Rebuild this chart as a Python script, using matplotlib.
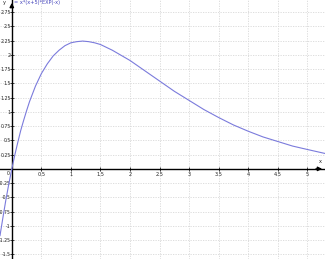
import matplotlib
matplotlib.use("Agg")
import matplotlib.pyplot as plt
import numpy as np

# Curve samples
x_vals = [-0.2, -0.15, -0.1, -0.05, 0.0, 0.05, 0.1, 0.15, 0.2, 0.25, 0.3, 0.4, 0.5,
          0.6, 0.7, 0.8, 0.9, 1.0, 1.1, 1.2, 1.3, 1.4, 1.5, 1.6, 1.7, 1.8, 1.9,
          2.0, 2.25, 2.5, 2.75, 3.0, 3.25, 3.5, 3.75, 4.0, 4.25, 4.5, 4.75, 5.0, 5.3]
y_vals = [-1.17, -0.85, -0.54, -0.26, 0.0, 0.24, 0.46, 0.67, 0.85, 1.02, 1.18, 1.45,
          1.67, 1.84, 1.98, 2.08, 2.16, 2.21, 2.23, 2.24, 2.23, 2.21, 2.18, 2.13,
          2.08, 2.02, 1.96, 1.9, 1.72, 1.54, 1.36, 1.2, 1.04, 0.9, 0.77, 0.66, 0.56,
          0.48, 0.4, 0.34, 0.27]

x_ticks = [0.5, 1, 1.5, 2, 2.5, 3, 3.5, 4, 4.5, 5]
x_tick_labels = ["0.5", "1", "1.5", "2", "2.5", "3", "3.5", "4", "4.5", "5"]
y_ticks = [-1.5, -1.25, -1, -0.75, -0.5, -0.25, 0.25, 0.5, 0.75, 1, 1.25, 1.5,
           1.75, 2, 2.25, 2.5, 2.75]
y_tick_labels = ["-1.5", "-1.25", "-1", "-0.75", "-0.5", "-0.25", "0.25", "0.5",
                 "0.75", "1", "1.25", "1.5", "1.75", "2", "2.25", "2.5", "2.75"]
title = "= x*(x+5)*EXP(-x)"

fig = plt.figure(figsize=(3.25, 2.59), dpi=100)
ax = fig.add_axes([0, 0, 1, 1])
ax.set_xlim(-0.2, 5.3)
ax.set_ylim(-1.58, 2.96)

# Grid
for gx in np.arange(0.5, 5.3, 0.5):
    ax.axvline(gx, color="#d8d8d8", lw=0.6, ls=(0, (1.5, 1.5)), zorder=0)
for gy in np.arange(-1.5, 2.96, 0.25):
    if abs(gy) > 1e-9:
        ax.axhline(gy, color="#d8d8d8", lw=0.6, ls=(0, (1.5, 1.5)), zorder=0)

# Axes through the origin
for s in ["top", "right"]:
    ax.spines[s].set_visible(False)
ax.spines["left"].set_position(("data", 0))
ax.spines["bottom"].set_position(("data", 0))
ax.spines["left"].set_linewidth(1.0)
ax.spines["bottom"].set_linewidth(1.0)
ax.set_xticks(x_ticks)
ax.set_xticklabels(x_tick_labels)
ax.set_yticks(y_ticks)
ax.set_yticklabels(y_tick_labels)
ax.tick_params(direction="inout", length=3, width=0.6, colors="#222222")
ax.tick_params(axis="x", labelsize=3.6, pad=0.8)
ax.tick_params(axis="y", labelsize=3.3, pad=-0.6)
ax.annotate("", xy=(5.3, 0), xytext=(5.1, 0),
            arrowprops=dict(arrowstyle="-|>", color="black", lw=1.0,
                            mutation_scale=6))
ax.annotate("", xy=(0, 2.96), xytext=(0, 2.8),
            arrowprops=dict(arrowstyle="-|>", color="black", lw=1.0,
                            mutation_scale=6))
ax.text(-0.03, -0.04, "0", fontsize=3.4, ha="right", va="top", color="#222222")
ax.text(5.22, 0.08, "x", fontsize=3.6, ha="center", va="bottom", color="#222222")
ax.text(-0.12, 2.91, "y", fontsize=3.6, ha="center", va="center", color="#222222")
ax.text(0.03, 2.91, title, fontsize=3.6, ha="left", va="center", color="#4444bb")

ax.plot(x_vals, y_vals, color="#7b7bdc", lw=0.8, zorder=3)

fig.savefig("out.png", dpi=100)
